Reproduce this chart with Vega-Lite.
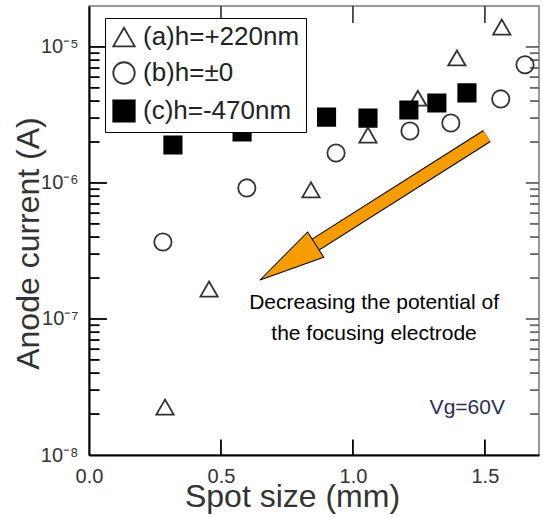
{
  "$schema": "https://vega.github.io/schema/vega-lite/v6.json",
  "width": 450,
  "height": 449,
  "autosize": {"type": "none"},
  "padding": {"left": 89, "top": 6, "right": 4, "bottom": 62},
  "config": {
    "font": "Liberation Sans",
    "view": {"stroke": "#777", "strokeWidth": 1.5},
    "axis": {
      "grid": false,
      "domainColor": "black",
      "domainWidth": 2,
      "labelColor": "#333",
      "titleColor": "#333",
      "labelFlush": false,
      "labelOverlap": false,
      "labelFont": "Liberation Sans",
      "titleFont": "Liberation Sans",
      "titleFontWeight": "normal"
    }
  },
  "datasets": {
    "pts": [
      {"series": "(a)h=+220nm", "size": 0.288, "current": 2.25e-8},
      {"series": "(a)h=+220nm", "size": 0.455, "current": 1.66e-7},
      {"series": "(a)h=+220nm", "size": 0.841, "current": 8.9e-7},
      {"series": "(a)h=+220nm", "size": 1.057, "current": 2.25e-6},
      {"series": "(a)h=+220nm", "size": 1.246, "current": 4.2e-6},
      {"series": "(a)h=+220nm", "size": 1.394, "current": 8.3e-6},
      {"series": "(a)h=+220nm", "size": 1.564, "current": 1.4e-5},
      {"series": "(b)h=±0", "size": 0.28, "current": 3.68e-7},
      {"series": "(b)h=±0", "size": 0.598, "current": 9.2e-7},
      {"series": "(b)h=±0", "size": 0.936, "current": 1.66e-6},
      {"series": "(b)h=±0", "size": 1.216, "current": 2.41e-6},
      {"series": "(b)h=±0", "size": 1.371, "current": 2.76e-6},
      {"series": "(b)h=±0", "size": 1.56, "current": 4.15e-6},
      {"series": "(b)h=±0", "size": 1.652, "current": 7.4e-6},
      {"series": "(c)h=-470nm", "size": 0.318, "current": 1.9e-6},
      {"series": "(c)h=-470nm", "size": 0.58, "current": 2.37e-6},
      {"series": "(c)h=-470nm", "size": 0.9, "current": 3.05e-6},
      {"series": "(c)h=-470nm", "size": 1.057, "current": 3.0e-6},
      {"series": "(c)h=-470nm", "size": 1.212, "current": 3.44e-6},
      {"series": "(c)h=-470nm", "size": 1.318, "current": 3.87e-6},
      {"series": "(c)h=-470nm", "size": 1.432, "current": 4.6e-6}
    ],
    "yticks": [
      {"v": 1e-7, "x0": 0, "x1": 0.068, "r0": 1.705, "r1": 1.655},
      {"v": 1e-6, "x0": 0, "x1": 0.068, "r0": 1.705, "r1": 1.655},
      {"v": 1e-5, "x0": 0, "x1": 0.068, "r0": 1.705, "r1": 1.655},
      {"v": 2e-8, "x0": 0, "x1": 0.04, "r0": 1.705, "r1": 1.671},
      {"v": 3e-8, "x0": 0, "x1": 0.04, "r0": 1.705, "r1": 1.671},
      {"v": 4e-8, "x0": 0, "x1": 0.04, "r0": 1.705, "r1": 1.671},
      {"v": 5e-8, "x0": 0, "x1": 0.04, "r0": 1.705, "r1": 1.671},
      {"v": 6e-8, "x0": 0, "x1": 0.04, "r0": 1.705, "r1": 1.671},
      {"v": 7e-8, "x0": 0, "x1": 0.04, "r0": 1.705, "r1": 1.671},
      {"v": 8e-8, "x0": 0, "x1": 0.04, "r0": 1.705, "r1": 1.671},
      {"v": 9e-8, "x0": 0, "x1": 0.04, "r0": 1.705, "r1": 1.671},
      {"v": 2e-7, "x0": 0, "x1": 0.04, "r0": 1.705, "r1": 1.671},
      {"v": 3e-7, "x0": 0, "x1": 0.04, "r0": 1.705, "r1": 1.671},
      {"v": 4e-7, "x0": 0, "x1": 0.04, "r0": 1.705, "r1": 1.671},
      {"v": 5e-7, "x0": 0, "x1": 0.04, "r0": 1.705, "r1": 1.671},
      {"v": 6e-7, "x0": 0, "x1": 0.04, "r0": 1.705, "r1": 1.671},
      {"v": 7e-7, "x0": 0, "x1": 0.04, "r0": 1.705, "r1": 1.671},
      {"v": 8e-7, "x0": 0, "x1": 0.04, "r0": 1.705, "r1": 1.671},
      {"v": 9e-7, "x0": 0, "x1": 0.04, "r0": 1.705, "r1": 1.671},
      {"v": 2e-6, "x0": 0, "x1": 0.04, "r0": 1.705, "r1": 1.671},
      {"v": 3e-6, "x0": 0, "x1": 0.04, "r0": 1.705, "r1": 1.671},
      {"v": 4e-6, "x0": 0, "x1": 0.04, "r0": 1.705, "r1": 1.671},
      {"v": 5e-6, "x0": 0, "x1": 0.04, "r0": 1.705, "r1": 1.671},
      {"v": 6e-6, "x0": 0, "x1": 0.04, "r0": 1.705, "r1": 1.671},
      {"v": 7e-6, "x0": 0, "x1": 0.04, "r0": 1.705, "r1": 1.671},
      {"v": 8e-6, "x0": 0, "x1": 0.04, "r0": 1.705, "r1": 1.671},
      {"v": 9e-6, "x0": 0, "x1": 0.04, "r0": 1.705, "r1": 1.671}
    ],
    "xticks": [
      {"v": 0.5, "b0": 1e-8, "b1": 1.3e-8, "t0": 2.0e-5, "t1": 1.5e-5},
      {"v": 1.0, "b0": 1e-8, "b1": 1.3e-8, "t0": 2.0e-5, "t1": 1.5e-5},
      {"v": 1.5, "b0": 1e-8, "b1": 1.3e-8, "t0": 2.0e-5, "t1": 1.5e-5}
    ],
    "arrow": [
      {"x": 1.5076, "y": 2.215e-6, "x2": 0.8076, "y2": 3.05e-7}
    ],
    "head": [
      {"x": 0.7534, "y": 2.61e-7}
    ],
    "notes": [
      {"x": 1.08, "y": 1.31e-7, "t": "Decreasing the potential of"},
      {"x": 1.08, "y": 7.8e-8, "t": "the focusing electrode"}
    ],
    "vg": [
      {"x": 1.576, "y": 2.22e-8, "t": "Vg=60V"}
    ]
  },
  "layer": [
    {
      "data": {"name": "yticks"},
      "mark": {"type": "rule", "stroke": "black", "strokeWidth": 1.8, "opacity": 1},
      "encoding": {
        "x": {"field": "x0", "type": "quantitative", "scale": {"domain": [0, 1.705], "nice": false, "zero": false}, "axis": null},
        "x2": {"field": "x1"},
        "y": {"field": "v", "type": "quantitative", "scale": {"type": "log", "domain": [1e-8, 2.0e-5], "nice": false}, "axis": null}
      }
    },
    {
      "data": {"name": "yticks"},
      "mark": {"type": "rule", "stroke": "#666", "strokeWidth": 1.8, "opacity": 1},
      "encoding": {
        "x": {"field": "r0", "type": "quantitative", "scale": {"domain": [0, 1.705], "nice": false, "zero": false}, "axis": null},
        "x2": {"field": "r1"},
        "y": {"field": "v", "type": "quantitative", "scale": {"type": "log", "domain": [1e-8, 2.0e-5], "nice": false}, "axis": null}
      }
    },
    {
      "data": {"name": "xticks"},
      "mark": {"type": "rule", "stroke": "black", "strokeWidth": 1.8, "opacity": 1},
      "encoding": {
        "x": {"field": "v", "type": "quantitative", "scale": {"domain": [0, 1.705], "nice": false, "zero": false}, "axis": null},
        "y": {"field": "b0", "type": "quantitative", "scale": {"type": "log", "domain": [1e-8, 2.0e-5], "nice": false}, "axis": null},
        "y2": {"field": "b1"}
      }
    },
    {
      "data": {"name": "xticks"},
      "mark": {"type": "rule", "stroke": "#444", "strokeWidth": 1.8, "opacity": 1},
      "encoding": {
        "x": {"field": "v", "type": "quantitative", "scale": {"domain": [0, 1.705], "nice": false, "zero": false}, "axis": null},
        "y": {"field": "t0", "type": "quantitative", "scale": {"type": "log", "domain": [1e-8, 2.0e-5], "nice": false}, "axis": null},
        "y2": {"field": "t1"}
      }
    },
    {
      "data": {"name": "pts"},
      "mark": {"type": "point", "filled": true, "strokeWidth": 1.8, "size": 300, "opacity": 1},
      "encoding": {
        "x": {"field": "size", "type": "quantitative", "scale": {"domain": [0, 1.705], "nice": false, "zero": false},
          "axis": {"orient": "bottom", "values": [0, 0.5, 1, 1.5], "format": ".1f", "ticks": false, "tickSize": 0, "labelPadding": 11, "labelFontSize": 20, "title": "Spot size (mm)", "titleFontSize": 32, "titleX": 203, "titleY": 41, "titleBaseline": "middle"}},
        "y": {"field": "current", "type": "quantitative", "scale": {"type": "log", "domain": [1e-8, 2.0e-5], "nice": false},
          "axis": {"orient": "left", "values": [1e-8, 1e-7, 1e-6, 1e-5], "ticks": false, "tickSize": 0, "labelPadding": 11, "labelFontSize": 20, "labelBaseline": "middle",
            "labelExpr": "'10' + ['⁻⁸','⁻⁷','⁻⁶','⁻⁵'][round(log(datum.value)/LN10)+8]",
            "title": "Anode current (A)", "titleFontSize": 32, "titleX": -61, "titleY": 237, "titleBaseline": "middle"}},
        "shape": {"field": "series", "type": "nominal",
          "scale": {"domain": ["(a)h=+220nm", "(b)h=±0", "(c)h=-470nm"], "range": ["triangle-up", "circle", "square"]},
          "legend": {"orient": "none", "legendX": 16, "legendY": 12, "title": null, "labelFontSize": 26, "labelColor": "#222", "labelFont": "Liberation Sans", "symbolSize": 460, "symbolStrokeWidth": 1.8, "symbolOpacity": 1, "padding": 6, "rowPadding": 8, "labelOffset": 6, "strokeColor": "black", "fillColor": "white"}},
        "fill": {"field": "series", "type": "nominal",
          "scale": {"domain": ["(a)h=+220nm", "(b)h=±0", "(c)h=-470nm"], "range": ["transparent", "transparent", "black"]},
          "legend": {"orient": "none", "legendX": 16, "legendY": 12, "title": null, "labelFontSize": 26, "labelColor": "#222", "labelFont": "Liberation Sans", "symbolSize": 460, "symbolStrokeWidth": 1.8, "symbolOpacity": 1, "padding": 6, "rowPadding": 8, "labelOffset": 6, "strokeColor": "black", "fillColor": "white"}},
        "stroke": {"field": "series", "type": "nominal",
          "scale": {"domain": ["(a)h=+220nm", "(b)h=±0", "(c)h=-470nm"], "range": ["#333", "#333", "black"]},
          "legend": {"orient": "none", "legendX": 16, "legendY": 12, "title": null, "labelFontSize": 26, "labelColor": "#222", "labelFont": "Liberation Sans", "symbolSize": 460, "symbolStrokeWidth": 1.8, "symbolOpacity": 1, "padding": 6, "rowPadding": 8, "labelOffset": 6, "strokeColor": "black", "fillColor": "white"}}
      }
    },
    {
      "data": {"name": "arrow"},
      "mark": {"type": "rule", "stroke": "black", "strokeWidth": 14, "strokeCap": "butt"},
      "encoding": {
        "x": {"field": "x", "type": "quantitative", "scale": {"domain": [0, 1.705], "nice": false, "zero": false}, "axis": null},
        "y": {"field": "y", "type": "quantitative", "scale": {"type": "log", "domain": [1e-8, 2.0e-5], "nice": false}, "axis": null},
        "x2": {"field": "x2"},
        "y2": {"field": "y2"}
      }
    },
    {
      "data": {"name": "arrow"},
      "mark": {"type": "rule", "stroke": "#f59c00", "strokeWidth": 12, "strokeCap": "butt"},
      "encoding": {
        "x": {"field": "x", "type": "quantitative", "scale": {"domain": [0, 1.705], "nice": false, "zero": false}, "axis": null},
        "y": {"field": "y", "type": "quantitative", "scale": {"type": "log", "domain": [1e-8, 2.0e-5], "nice": false}, "axis": null},
        "x2": {"field": "x2"},
        "y2": {"field": "y2"}
      }
    },
    {
      "data": {"name": "head"},
      "mark": {"type": "point", "shape": "M0,-1L0.455,1L-0.455,1Z", "size": 4356, "angle": 237.6, "filled": true, "fill": "#f59c00", "stroke": "black", "strokeWidth": 1, "opacity": 1},
      "encoding": {
        "x": {"field": "x", "type": "quantitative", "scale": {"domain": [0, 1.705], "nice": false, "zero": false}, "axis": null},
        "y": {"field": "y", "type": "quantitative", "scale": {"type": "log", "domain": [1e-8, 2.0e-5], "nice": false}, "axis": null}
      }
    },
    {
      "data": {"name": "notes"},
      "mark": {"type": "text", "fontSize": 21, "color": "black", "align": "center", "baseline": "middle", "font": "Liberation Sans"},
      "encoding": {
        "x": {"field": "x", "type": "quantitative", "scale": {"domain": [0, 1.705], "nice": false, "zero": false}, "axis": null},
        "y": {"field": "y", "type": "quantitative", "scale": {"type": "log", "domain": [1e-8, 2.0e-5], "nice": false}, "axis": null},
        "text": {"field": "t"}
      }
    },
    {
      "data": {"name": "vg"},
      "mark": {"type": "text", "fontSize": 21, "color": "#2b2f55", "align": "right", "baseline": "middle", "font": "Liberation Sans"},
      "encoding": {
        "x": {"field": "x", "type": "quantitative", "scale": {"domain": [0, 1.705], "nice": false, "zero": false}, "axis": null},
        "y": {"field": "y", "type": "quantitative", "scale": {"type": "log", "domain": [1e-8, 2.0e-5], "nice": false}, "axis": null},
        "text": {"field": "t"}
      }
    }
  ],
  "resolve": {"scale": {"x": "independent", "y": "independent"}, "axis": {"x": "independent", "y": "independent"}}
}
